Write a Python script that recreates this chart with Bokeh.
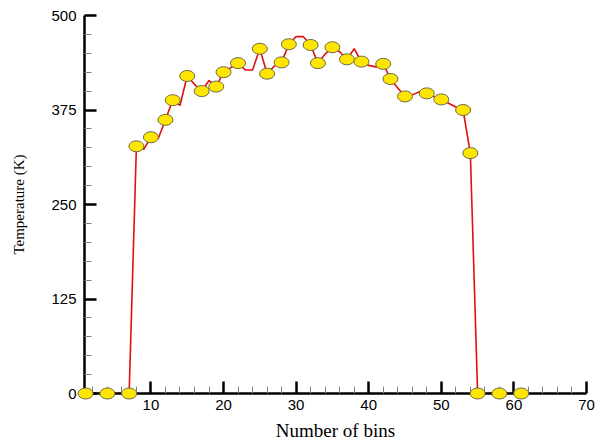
from bokeh.plotting import figure
from bokeh.models import FixedTicker, Range1d
from bokeh.embed import file_html
from bokeh.resources import INLINE

# Temperature per bin
bins = list(range(1, 62))
temperature = [
    0, 0, 0, 0, 0, 0, 0,
    327, 323, 339, 337, 362, 388, 381, 420, 409, 400, 414, 406, 425,
    431, 437, 428, 428, 456, 423, 433, 438, 462, 472, 472, 461, 437,
    449, 458, 452, 442, 456, 439, 434, 432, 436, 416, 404, 393, 395,
    399, 397, 393, 389, 384, 379, 375, 318,
    0, 0, 0, 0, 0, 0, 0,
]
# Bins that carry a symbol
symbol_bins = [1, 4, 7, 8, 10, 12, 13, 15, 17, 19, 20, 22, 25, 26, 28, 29,
               32, 33, 35, 37, 39, 42, 43, 45, 48, 50, 53, 54, 55, 58, 61]
symbol_temps = [temperature[bins.index(b)] for b in symbol_bins]

x_major = [10, 20, 30, 40, 50, 60, 70]
x_minor = [v for v in range(2, 70, 2) if v % 10 != 0]
y_major = [0, 125, 250, 375, 500]
y_minor = [v for v in range(25, 500, 25) if v % 125 != 0]

p = figure(width=595, height=444, output_backend="svg", toolbar_location=None,
           x_range=Range1d(0.85, 70), y_range=Range1d(0, 500))
p.min_border_left = 84
p.min_border_right = 9
p.min_border_top = 15
p.min_border_bottom = 51
p.outline_line_color = None
p.grid.visible = False
p.background_fill_color = "white"
p.border_fill_color = "white"

p.line(bins, temperature, line_color="#e01010", line_width=1.6)
# symbols drawn on the annotation level so those sitting on the axes show in full
p.ellipse(symbol_bins, symbol_temps, width=15, height=11,
          width_units="screen", height_units="screen",
          fill_color="#ffe600", line_color="#6e6a48", line_width=1,
          level="annotation")

for ax, major, minor in ((p.xaxis[0], x_major, x_minor), (p.yaxis[0], y_major, y_minor)):
    ax.ticker = FixedTicker(ticks=major, minor_ticks=minor)
    ax.axis_line_width = 2.5
    ax.axis_line_color = "black"
    ax.major_tick_in = 12
    ax.major_tick_out = 0
    ax.major_tick_line_width = 2.5
    ax.minor_tick_in = 7
    ax.minor_tick_out = 0
    ax.minor_tick_line_color = "#808080"
    ax.minor_tick_line_width = 1
    ax.major_label_text_font = "Liberation Sans"
    ax.major_label_text_font_size = "15px"
    ax.major_label_text_color = "black"
    ax.axis_label_text_font = "Liberation Serif"
    ax.axis_label_text_font_style = "normal"
    ax.axis_label_text_color = "black"

p.xaxis.major_label_standoff = 6
p.yaxis.major_label_standoff = 8
p.xaxis.axis_label = "Number of bins"
p.xaxis.axis_label_text_font_size = "19px"
p.xaxis.axis_label_standoff = 7
p.yaxis.axis_label = "Temperature (K)"
p.yaxis.axis_label_text_font_size = "15px"
p.yaxis.axis_label_standoff = 21

open("out.html", "w").write(file_html(p, INLINE))
